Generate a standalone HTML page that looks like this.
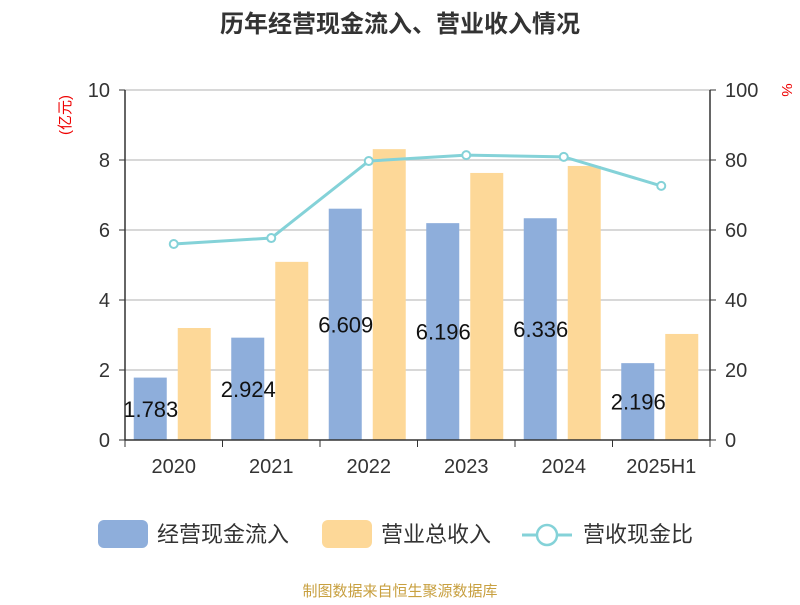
<!DOCTYPE html>
<html><head><meta charset="utf-8"><style>
body{margin:0;background:#fff;font-family:"Liberation Sans","Noto Sans CJK SC",sans-serif}
svg text{font-family:"Liberation Sans","Noto Sans CJK SC",sans-serif}
</style></head><body>
<svg id="c" width="800" height="600">
<text x="400" y="32" text-anchor="middle" font-size="24" font-weight="bold" fill="#333">历年经营现金流入、营业收入情况</text>
<text transform="translate(70,115) rotate(-90)" text-anchor="middle" font-size="15" fill="#e00">(亿元)</text>
<text transform="translate(782,90) rotate(90)" text-anchor="middle" font-size="15" fill="#e00">%</text>
<g id="grid"></g><g id="bars"></g><g id="line"></g><g id="labels"></g><g id="axes"></g>
<g>
<rect x="98" y="520" width="50" height="28" rx="6" fill="#8eaedb"/>
<text x="157" y="542" font-size="22" fill="#333">经营现金流入</text>
<rect x="322" y="520" width="50" height="28" rx="6" fill="#fdd898"/>
<text x="381" y="542" font-size="22" fill="#333">营业总收入</text>
<line x1="522" y1="535" x2="572" y2="535" stroke="#84d2d8" stroke-width="3"/>
<circle cx="547" cy="535" r="10" fill="#fff" stroke="#84d2d8" stroke-width="2.5"/>
<text x="583" y="542" font-size="22" fill="#333">营收现金比</text>
</g>
<text x="400" y="596" text-anchor="middle" font-size="15" fill="#c8a040">制图数据来自恒生聚源数据库</text>
</svg>
<script>
const categories=["2020","2021","2022","2023","2024","2025H1"];
const cashInflow=[1.783,2.924,6.609,6.196,6.336,2.196];
const revenue=[3.2,5.09,8.31,7.63,7.83,3.03];
const ratio=[56,57.7,79.7,81.4,80.9,72.6];
const leftTicks=[0,2,4,6,8,10];
const rightTicks=[0,20,40,60,80,100];
const NS="http://www.w3.org/2000/svg";
const X0=125,X1=710,Y0=440,Y1=90;
const bw=(X1-X0)/categories.length;
const yL=v=>Y0-(v/10)*(Y0-Y1);
const yR=v=>Y0-(v/100)*(Y0-Y1);
const xc=i=>X0+bw*(i+0.5);
function mk(t,a,p){const e=document.createElementNS(NS,t);for(const k in a)e.setAttribute(k,a[k]);p.appendChild(e);return e;}
const g=document.getElementById('grid'),b=document.getElementById('bars'),l=document.getElementById('line'),lb=document.getElementById('labels'),ax=document.getElementById('axes');
leftTicks.forEach((t,i)=>{
 const y=yL(t);
 if(t>0){const gl=mk('line',{x1:X0,x2:X1,y1:y,y2:y,stroke:'#ccc','stroke-width':1.5},g);
 
 }
 const tl=mk('text',{x:X0-15,y:y+7,'text-anchor':'end','font-size':20,fill:'#333'},ax);tl.textContent=t;
 
 
 mk('line',{x1:X0-6,x2:X0,y1:y,y2:y,stroke:'#333'},ax);
});
rightTicks.forEach(t=>{
 const y=yR(t);
 const tl=mk('text',{x:X1+15,y:y+7,'font-size':20,fill:'#333'},ax);tl.textContent=t;
 
 
 mk('line',{x1:X1,x2:X1+6,y1:y,y2:y,stroke:'#333'},ax);
});
mk('line',{x1:X0,x2:X0,y1:Y1,y2:Y0,stroke:'#333','stroke-width':1.5},ax);
mk('line',{x1:X1,x2:X1,y1:Y1,y2:Y0,stroke:'#333','stroke-width':1.5},ax);
mk('line',{x1:X0,x2:X1,y1:Y0,y2:Y0,stroke:'#333','stroke-width':1.5},ax);
categories.forEach((c,i)=>{
 const cx=xc(i);
 mk('line',{x1:X0+bw*i,x2:X0+bw*i,y1:Y0,y2:Y0+7,stroke:'#333'},ax);
 const ct=mk('text',{x:cx,y:Y0+33,'text-anchor':'middle','font-size':20,fill:'#333'},ax);ct.textContent=c;
 
 
 const r1=mk('rect',{x:cx-40,y:yL(cashInflow[i]),width:33,height:Y0-yL(cashInflow[i]),fill:'#8eaedb'},b);
 
 
 const r2=mk('rect',{x:cx+4,y:yL(revenue[i]),width:33,height:Y0-yL(revenue[i]),fill:'#fdd898'},b);
 
 
 const vt=mk('text',{x:cx-23,y:(yL(cashInflow[i])+Y0)/2+8,'text-anchor':'middle','font-size':22,fill:'#111'},lb);vt.textContent=cashInflow[i].toFixed(3);
 
 
});
mk('line',{x1:X0+bw*6,x2:X0+bw*6,y1:Y0,y2:Y0+7,stroke:'#333'},ax);
const pl=mk('polyline',{points:ratio.map((v,i)=>xc(i)+','+yR(v)).join(' '),fill:'none',stroke:'#84d2d8','stroke-width':3},l);


ratio.forEach((v,i)=>{
 const p=mk('circle',{cx:xc(i),cy:yR(v),r:4,fill:'#fff',stroke:'#84d2d8','stroke-width':2},l);
 
 
});
</script>
</body></html>
